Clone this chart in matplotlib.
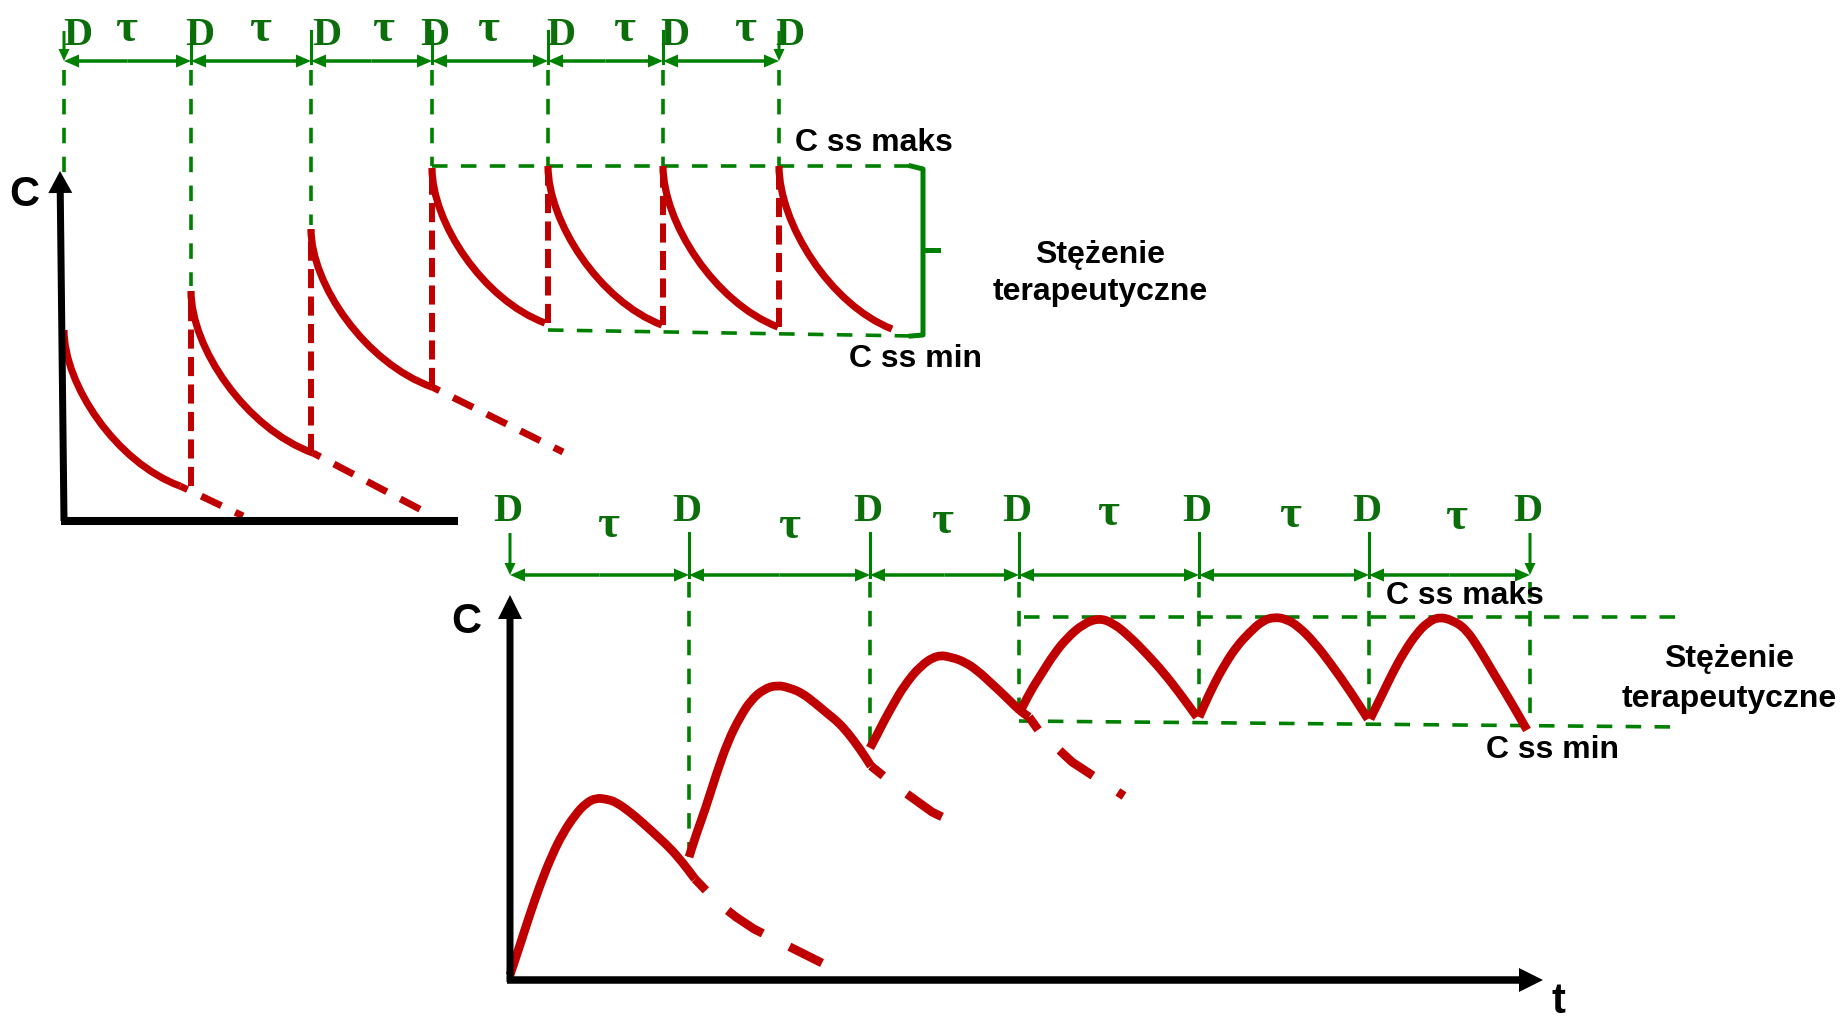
"""
Dosing schematic - repeated i.v. bolus (top) and repeated oral doses (bottom)
"""
import matplotlib.pyplot as plt
from matplotlib.path import Path
from matplotlib.patches import PathPatch

GREEN = '#008000'
DGREEN = '#0b6e0b'
RED = '#c00000'
SANS = 'Liberation Sans'
SERIF = 'Liberation Serif'

# ---------------- top panel: i.v. bolus ----------------
top_dose_x = [64, 191, 311, 432, 548, 663, 779]
top_D_x = [78, 200, 327, 435, 561, 675, 790]
top_tau_x = [126, 260, 383, 488, 624, 745]
top_start_y = [330, 291, 229, 168, 166, 166, 166]
top_end_x = [180, 313, 432, 545, 662, 778, 892]
top_end_y = [486, 453, 387, 323, 325, 327, 329]
# bezier control points of one decay curve (fraction of width / fraction of drop)
decay_ctrl_fx = [0, 0, 0.45, 1]
decay_ctrl_fy = [0, 0.35, 0.85, 1]
# dashed continuation of the first three decays
top_tail_x = [[180, 243], [313, 429], [432, 563]]
top_tail_y = [[486, 516], [453, 514], [387, 452]]
# lower end of the green dashed verticals
top_guide_end = [175, 286, 225, 166, 166, 166, 166]
top_css_max = 166
top_css_min = [330, 336]
top_bracket_x = 923

# ---------------- bottom panel: oral doses ----------------
bot_dose_x = [510, 689, 870, 1019, 1199, 1369, 1530]
bot_tau_x = [608, 789, 942, 1108, 1290, 1456]
bot_tau_y = [537, 538, 533, 525, 527, 529]
bot_curves = [
    ([510, 520, 529, 540, 552, 563, 575, 586, 596, 606, 616, 630, 644, 657, 670, 683, 695],
     [975, 945, 917, 885, 855, 833, 815, 803, 798, 799, 802, 812, 824, 836, 848, 863, 879]),
    ([689, 697, 705, 716, 728, 740, 751, 764, 777, 790, 802, 815, 828, 838, 848, 860, 871],
     [857, 832, 810, 775, 741, 717, 700, 689, 685, 688, 693, 703, 714, 722, 733, 749, 766]),
    ([870, 877, 884, 894, 904, 920, 937, 951, 965, 978, 991, 1005, 1019, 1029],
     [748, 735, 721, 703, 686, 666, 655, 657, 662, 671, 683, 696, 710, 717]),
    ([1019, 1030, 1042, 1054, 1067, 1083, 1099, 1113, 1128, 1146, 1164, 1181, 1197],
     [714, 692, 673, 654, 638, 624, 618, 623, 635, 653, 673, 695, 717]),
    ([1199, 1212, 1225, 1237, 1249, 1262, 1274, 1286, 1298, 1314, 1331, 1350, 1368],
     [717, 688, 664, 646, 633, 621, 617, 619, 626, 642, 664, 691, 719]),
    ([1370, 1381, 1392, 1404, 1417, 1428, 1439, 1452, 1466, 1480, 1494, 1511, 1527],
     [719, 697, 674, 652, 633, 622, 617, 620, 629, 650, 674, 702, 730]),
]
bot_tails = [
    ([695, 718, 736, 754, 782, 822], [879, 903, 917, 929, 943, 963]),
    ([871, 896, 932, 965], [766, 786, 812, 828]),
    ([1029, 1039, 1072, 1098, 1124], [717, 731, 762, 779, 796]),
]
bot_guide_end = [None, 857, 752, 722, 722, 724, 726]
bot_css_max = 617
bot_css_min = [721, 727]

fig = plt.figure(figsize=(18.41, 10.24), dpi=100)
ax = fig.add_axes([0, 0, 1, 1])
ax.set_xlim(0, 1841)
ax.set_ylim(1024, 0)
ax.axis('off')

gdash = dict(color=GREEN, lw=2.6, linestyle=(0, (4.3, 3.7)), dash_capstyle='butt')
label = dict(fontsize=23, fontweight='bold', family=SANS, va='baseline')


def double_arrow(x0, x1, y):
    mid = (x0 + x1) / 2
    for end in (x0, x1):
        ax.arrow(mid, y, end - mid, 0, width=3.5, head_width=13, head_length=15,
                 length_includes_head=True, color=GREEN, lw=0)


def dose_marks(xs, y0, y1):
    for i, x in enumerate(xs):
        if i in (0, len(xs) - 1):
            ax.arrow(x, y0, 0, y1 - y0, width=3, head_width=11, head_length=12,
                     length_includes_head=True, color=GREEN, lw=0)
        else:
            ax.plot([x, x], [y0, y1 + 2], color=GREEN, lw=2.2)


def smooth_line(xs, ys, **kw):
    # quadratic smoothing through the read points (midpoint rule)
    pts = list(zip(xs, ys))
    verts = [pts[0], ((pts[0][0] + pts[1][0]) / 2, (pts[0][1] + pts[1][1]) / 2)]
    codes = [Path.MOVETO, Path.LINETO]
    for i in range(1, len(pts) - 1):
        nxt = ((pts[i][0] + pts[i + 1][0]) / 2, (pts[i][1] + pts[i + 1][1]) / 2)
        verts += [pts[i], nxt]
        codes += [Path.CURVE3, Path.CURVE3]
    verts.append(pts[-1])
    codes.append(Path.LINETO)
    ax.add_patch(PathPatch(Path(verts, codes), fill=False, **kw))


# ---- top panel ----
ax.arrow(64, 521, -4, -350, width=7, head_width=24, head_length=22,
         length_includes_head=True, color='black', lw=0, zorder=5)
ax.plot([61, 458], [521, 521], color='black', lw=5.8, solid_capstyle='butt', zorder=5)
ax.text(9, 206, 'C', fontsize=30, fontweight='bold', family=SANS, va='baseline')

dose_marks(top_dose_x, 31, 61)
for i in range(len(top_dose_x) - 1):
    double_arrow(top_dose_x[i], top_dose_x[i + 1], 61)
for x in top_D_x:
    ax.text(x, 45, 'D', fontsize=29, fontweight='bold', family=SERIF, color=DGREEN,
            ha='center', va='baseline')
for x in top_tau_x:
    ax.text(x, 41, 'τ', fontsize=34, fontweight='bold', family=SERIF, color=DGREEN,
            ha='center', va='baseline')

for x, y in zip(top_dose_x, top_guide_end):
    ax.plot([x, x], [70, y], **gdash)
ax.plot([top_dose_x[3], top_bracket_x - 10], [top_css_max, top_css_max], **gdash)
ax.plot([top_dose_x[4], top_bracket_x - 10], top_css_min, **gdash)
ax.plot([top_bracket_x - 12, top_bracket_x, top_bracket_x, top_bracket_x - 12],
        [top_css_max, top_css_max + 3, top_css_min[1] - 1, top_css_min[1]],
        color=GREEN, lw=3.6, solid_joinstyle='round')
ax.plot([top_bracket_x, top_bracket_x + 15], [250, 250], color=GREEN, lw=3.6)

for x0, y0, x1, y1 in zip(top_dose_x, top_start_y, top_end_x, top_end_y):
    verts = [(x0 + fx * (x1 - x0), y0 + fy * (y1 - y0))
             for fx, fy in zip(decay_ctrl_fx, decay_ctrl_fy)]
    path = Path(verts, [Path.MOVETO, Path.CURVE4, Path.CURVE4, Path.CURVE4])
    ax.add_patch(PathPatch(path, fill=False, edgecolor=RED, lw=5.2, capstyle='butt', zorder=4))
for xs, ys in zip(top_tail_x, top_tail_y):
    ax.plot(xs, ys, color=RED, lw=5, linestyle=(2.0, (3.2, 2.2)),
            dash_capstyle='butt', zorder=4)
for i in range(1, len(top_dose_x)):
    ax.plot([top_dose_x[i], top_dose_x[i]], [top_end_y[i - 1], top_start_y[i]],
            color=RED, lw=4.3, linestyle=(0, (3.2, 1.4)), dash_capstyle='butt', zorder=3)

ax.text(795, 151, 'C ss maks', **label)
ax.text(849, 367, 'C ss min', **label)
ax.text(1100, 263, 'Stężenie', ha='center', **label)
ax.text(1100, 300, 'terapeutyczne', ha='center', **label)

# ---- bottom panel ----
ax.arrow(510, 982, 0, -387, width=7, head_width=24, head_length=24,
         length_includes_head=True, color='black', lw=0, zorder=5)
ax.arrow(507, 980, 1036, 0, width=7.5, head_width=24, head_length=24,
         length_includes_head=True, color='black', lw=0, zorder=5)
ax.text(451, 633, 'C', fontsize=30, fontweight='bold', family=SANS, va='baseline')
ax.text(1552, 1013, 't', fontsize=30, fontweight='bold', family=SANS, va='baseline')

dose_marks(bot_dose_x, 533, 575)
for i in range(len(bot_dose_x) - 1):
    double_arrow(bot_dose_x[i], bot_dose_x[i + 1], 575)
for x in bot_dose_x:
    ax.text(x - 2, 521, 'D', fontsize=29, fontweight='bold', family=SERIF, color=DGREEN,
            ha='center', va='baseline')
for x, y in zip(bot_tau_x, bot_tau_y):
    ax.text(x, y, 'τ', fontsize=34, fontweight='bold', family=SERIF, color=DGREEN,
            ha='center', va='baseline')

for x, y in zip(bot_dose_x, bot_guide_end):
    if y is not None:
        ax.plot([x, x], [582, y], **gdash)
ax.plot([bot_dose_x[3] + 5, 1685], [bot_css_max, bot_css_max], **gdash)
ax.plot([bot_dose_x[3], 1679], bot_css_min, **gdash)

for xs, ys in bot_curves:
    smooth_line(xs, ys, edgecolor=RED, lw=6.3, capstyle='butt', joinstyle='round', zorder=4)
for xs, ys in bot_tails:
    ax.plot(xs, ys, color=RED, lw=6.3, linestyle=(3.0, (4.8, 3.4)),
            dash_capstyle='butt', zorder=4)

ax.text(1386, 604, 'C ss maks', **label)
ax.text(1486, 758, 'C ss min', **label)
ax.text(1729, 667, 'Stężenie', ha='center', **label)
ax.text(1729, 707, 'terapeutyczne', ha='center', **label)

plt.savefig('out.png', dpi=100)
plt.close()
